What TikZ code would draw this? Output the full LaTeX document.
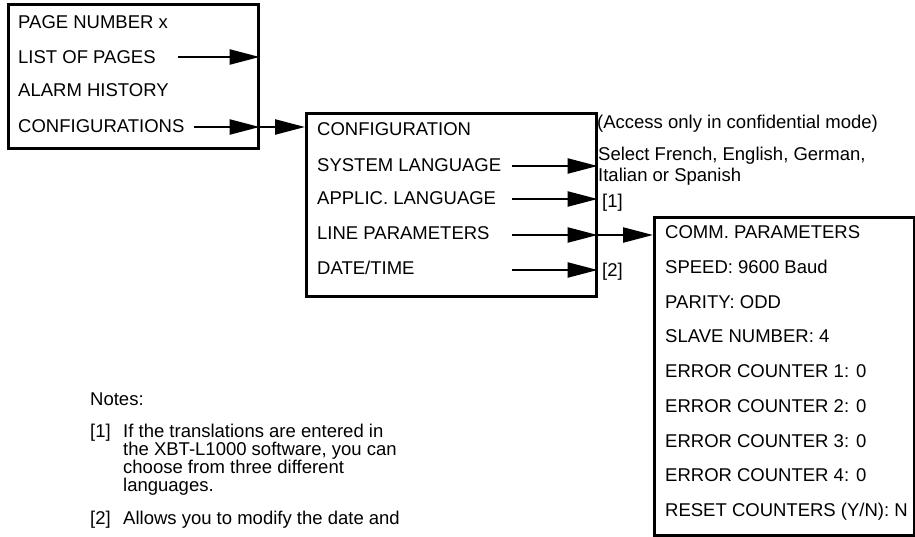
\documentclass[tikz,border=0pt]{standalone}
\usepackage{fontspec}
\setmainfont{Liberation Sans}
\usetikzlibrary{arrows.meta}
\begin{document}
\begin{tikzpicture}[x=1pt,y=-1pt,
  box/.style={draw,line width=2.6pt,inner sep=0pt,anchor=north west},
  txt/.style={anchor=base west,inner sep=0pt,font=\fontsize{18.5}{21}\selectfont},
  arr/.style={line width=2.3pt,-{Triangle[length=30pt,width=15pt]}}]
\useasboundingbox (0,0) rectangle (915,536);
% boxes
\node[box,minimum width=250pt,minimum height=144pt] (b1) at (7,3) {};
\node[box,minimum width=290pt,minimum height=183pt] (b2) at (305,112) {};
\node[box,minimum width=260pt,minimum height=318pt] (b3) at (653,216) {};
% box 1 texts
\node[txt] (t11) at (18,28.6) {PAGE NUMBER x};
\node[txt] (t12) at (18,63.6) {LIST OF PAGES};
\node[txt] (t13) at (18,96.6) {ALARM HISTORY};
\node[txt] (t14) at (18,132.6) {CONFIGURATIONS};
% box 2 texts
\node[txt] (t21) at (317,135.6) {CONFIGURATION};
\node[txt] (t22) at (317,171.6) {SYSTEM LANGUAGE};
\node[txt] (t23) at (317,204.6) {APPLIC. LANGUAGE};
\node[txt] (t24) at (317,239.6) {LINE PARAMETERS};
\node[txt] (t25) at (317,274.6) {DATE/TIME};
% box 3 texts
\node[txt] (t31) at (665,238.6) {COMM. PARAMETERS};
\node[txt] (t32) at (665,273.35) {SPEED: 9600 Baud};
\node[txt] (t33) at (665,308.1) {PARITY: ODD};
\node[txt] (t34) at (665,342.85) {SLAVE NUMBER: 4};
\node[txt] (t35) at (665,377.6) {ERROR COUNTER 1: 0};
\node[txt] (t36) at (665,412.35) {ERROR COUNTER 2: 0};
\node[txt] (t37) at (665,447.1) {ERROR COUNTER 3: 0};
\node[txt] (t38) at (665,481.85) {ERROR COUNTER 4: 0};
\node[txt] (t39) at (665,516.6) {RESET COUNTERS (Y/N): N};
% side labels
\node[txt] (acc) at (597,128.6) {(Access only in confidential mode)};
\node[txt] (sel1) at (598,160.1) {Select French, English, German,};
\node[txt] (sel2) at (598,181.6) {Italian or Spanish};
\node[txt] (r1) at (602,207.1) {[1]};
\node[txt] (r2) at (602,276.6) {[2]};
% notes
\node[txt] (notes) at (90,405.6) {Notes:};
\node[txt] (n1) at (90,437.6) {[1]};
\node[txt] (n1a) at (123,437.6) {If the translations are entered in};
\node[txt] (n1b) at (123,455.6) {the XBT-L1000 software, you can};
\node[txt] (n1c) at (123,473.6) {choose from three different};
\node[txt] (n1d) at (123,491.6) {languages.};
\node[txt] (n2) at (90,524.6) {[2]};
\node[txt] (n2a) at (123,524.6) {Allows you to modify the date and};
% arrows
\coordinate (a1) at (178,57);
\coordinate (a2) at (194,127);
\coordinate (a3) at (512,166);
\coordinate (a4) at (512,199);
\coordinate (a5) at (512,235);
\coordinate (a6) at (512,270);
\draw[arr] (a1) -- (a1 -| b1.east);
\draw[arr] (a2) -- (a2 -| b1.east);
\draw[arr] (a2 -| b1.east) -- (a2 -| b2.west);
\draw[arr] (a3) -- (a3 -| b2.east);
\draw[arr] (a4) -- (a4 -| b2.east);
\draw[arr] (a5) -- (a5 -| b2.east);
\draw[arr] (a5 -| b2.east) -- (a5 -| b3.west);
\draw[arr] (a6) -- (a6 -| b2.east);
\end{tikzpicture}
\end{document}
